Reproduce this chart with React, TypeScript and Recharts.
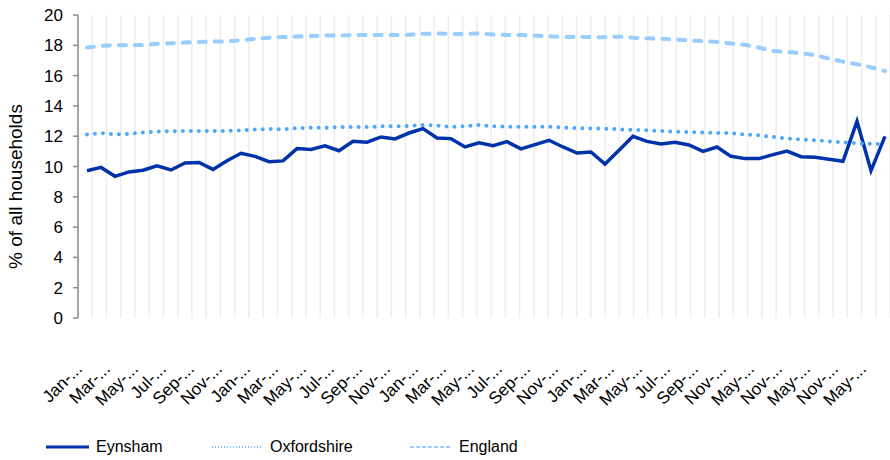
import { CartesianGrid, Legend, Line, LineChart, XAxis, YAxis } from "recharts";

const months = [
  "Jan-17", "Feb-17", "Mar-17", "Apr-17", "May-17", "Jun-17", "Jul-17", "Aug-17", "Sep-17", "Oct-17", "Nov-17", "Dec-17",
  "Jan-18", "Feb-18", "Mar-18", "Apr-18", "May-18", "Jun-18", "Jul-18", "Aug-18", "Sep-18", "Oct-18", "Nov-18", "Dec-18",
  "Jan-19", "Feb-19", "Mar-19", "Apr-19", "May-19", "Jun-19", "Jul-19", "Aug-19", "Sep-19", "Oct-19", "Nov-19", "Dec-19",
  "Jan-20", "Feb-20", "Mar-20", "Apr-20", "May-20", "Jun-20", "Jul-20", "Aug-20", "Sep-20", "Oct-20", "Nov-20", "Dec-20",
  "May-21", "Aug-21", "Nov-21", "Feb-22", "May-22", "Aug-22", "Nov-22", "Feb-23", "May-23", "Aug-23"
];

const eynsham = [
  9.72, 9.94, 9.35, 9.64, 9.75, 10.05, 9.77, 10.23, 10.27, 9.81,
  10.38, 10.87, 10.67, 10.32, 10.37, 11.18, 11.13, 11.37, 11.04, 11.66,
  11.6, 11.95, 11.82, 12.21, 12.5, 11.88, 11.84, 11.29, 11.56, 11.37,
  11.64, 11.16, 11.44, 11.73, 11.29, 10.89, 10.96, 10.16, 11.07, 11.99,
  11.66, 11.49, 11.6, 11.42, 11.0, 11.29, 10.67, 10.52, 10.52, 10.78,
  11.02, 10.65, 10.61, 10.48, 10.34, 12.98, 9.72, 11.99
];

const oxfordshire = [
  12.12, 12.2, 12.13, 12.15, 12.25, 12.3, 12.33, 12.34, 12.35, 12.34,
  12.34, 12.39, 12.45, 12.47, 12.45, 12.54, 12.56, 12.56, 12.6, 12.61,
  12.6, 12.65, 12.65, 12.67, 12.74, 12.7, 12.61, 12.67, 12.74, 12.66,
  12.63, 12.63, 12.63, 12.63, 12.56, 12.53, 12.51, 12.5, 12.46, 12.41,
  12.39, 12.34, 12.3, 12.27, 12.24, 12.21, 12.2, 12.12, 12.06, 11.95,
  11.84, 11.78, 11.73, 11.66, 11.6, 11.53, 11.49, 11.49
];

const england = [
  17.85, 17.97, 18.0, 18.0, 18.03, 18.1, 18.13, 18.18, 18.22, 18.24,
  18.27, 18.33, 18.42, 18.5, 18.55, 18.58, 18.62, 18.64, 18.65, 18.67,
  18.68, 18.68, 18.68, 18.7, 18.76, 18.78, 18.75, 18.74, 18.78, 18.72,
  18.68, 18.68, 18.64, 18.6, 18.55, 18.56, 18.55, 18.53, 18.57, 18.5,
  18.46, 18.44, 18.38, 18.32, 18.27, 18.22, 18.12, 18.03, 17.85, 17.62,
  17.55, 17.48, 17.35, 17.12, 16.92, 16.75, 16.55, 16.3
];

const yTicks = [0, 2, 4, 6, 8, 10, 12, 14, 16, 18, 20];

const data = months.map((month, i) => ({
  month,
  eynsham: eynsham[i],
  oxfordshire: oxfordshire[i],
  england: england[i]
}));

// band edges, used for the grid lines and the small tick marks under the axis
const bandEdges = months.map((_, i) => i).concat(months.length);

const FONT = '"Liberation Sans", Arial, sans-serif';
const AXIS_GREY = "#8c8c8c";

const series = [
  { key: "eynsham", name: "Eynsham", color: "#0033aa", width: 3.5, dash: undefined, cap: "butt", legendDash: undefined, legendWidth: 3 },
  { key: "oxfordshire", name: "Oxfordshire", color: "#4da6ff", width: 4, dash: "0 8", cap: "round", legendDash: "1 2", legendWidth: 1.5 },
  { key: "england", name: "England", color: "#99ccff", width: 4, dash: "7 9", cap: "round", legendDash: "4 2", legendWidth: 2 }
] as const;

const legendLeft = [46, 212, 410];
const legendSample = [43, 51, 42];

function MonthTick({ x, y, payload }: any) {
  const label = String(payload.value).slice(0, 3) + "-...";
  const ax = x - 4;
  const ay = y + 52;
  return (
    <text
      x={ax}
      y={ay}
      transform={`rotate(-45, ${ax}, ${ay})`}
      textAnchor="end"
      fontSize={17}
      fontFamily={FONT}
      fill="#000"
    >
      {label}
    </text>
  );
}

function YLabel({ viewBox }: any) {
  const cx = 22;
  const cy = viewBox.y + viewBox.height / 2 + 20;
  return (
    <text
      x={cx}
      y={cy}
      transform={`rotate(-90, ${cx}, ${cy})`}
      textAnchor="middle"
      fontSize={19}
      fontFamily={FONT}
      fill="#000"
    >
      % of all households
    </text>
  );
}

function LegendContent() {
  return (
    <div style={{ position: "relative", height: 43, width: 890, fontFamily: FONT }}>
      {series.map((s, i) => (
        <div
          key={s.key}
          style={{ position: "absolute", left: legendLeft[i], top: 20, height: 20, display: "flex", alignItems: "center" }}
        >
          <svg width={legendSample[i]} height={6}>
            <line x1={0} y1={3} x2={legendSample[i]} y2={3} stroke={s.color} strokeWidth={s.legendWidth} strokeDasharray={s.legendDash} />
          </svg>
          <span style={{ marginLeft: 7, fontSize: 16, color: "#000" }}>{s.name}</span>
        </div>
      ))}
    </div>
  );
}

export default function App() {
  return (
    <div style={{ position: "absolute", left: 0, top: 0, width: 890, height: 460, background: "#fff" }}>
      <LineChart width={890} height={460} data={data} margin={{ top: 15, right: 0, left: 0, bottom: 0 }}>
        <CartesianGrid xAxisId="grid" vertical horizontal={false} stroke="#ededed" strokeWidth={1.5} />
        <XAxis
          xAxisId="grid"
          type="number"
          domain={[0, months.length]}
          ticks={bandEdges}
          interval={0}
          allowDataOverflow
          height={0}
          tickSize={5}
          tickFormatter={() => ""}
          axisLine={{ stroke: AXIS_GREY, strokeWidth: 1.5 }}
          tickLine={{ stroke: AXIS_GREY, strokeWidth: 1.5 }}
        />
        <XAxis
          xAxisId="cat"
          dataKey="month"
          interval={1}
          height={99}
          padding={{ left: 9, right: 5 }}
          axisLine={false}
          tickLine={false}
          tickSize={0}
          tickMargin={0}
          tick={<MonthTick />}
        />
        <YAxis
          domain={[0, 20]}
          ticks={yTicks}
          interval={0}
          width={78}
          tickSize={5}
          tickMargin={10}
          axisLine={{ stroke: AXIS_GREY, strokeWidth: 1.5 }}
          tickLine={{ stroke: AXIS_GREY, strokeWidth: 1.5 }}
          tick={{ fontSize: 17, fill: "#000", fontFamily: FONT }}
          label={(props: any) => <YLabel {...props} />}
        />
        <Legend verticalAlign="bottom" content={<LegendContent />} wrapperStyle={{ left: 0, width: 890 }} />
        {series.map((s) => (
          <Line
            key={s.key}
            xAxisId="cat"
            type="linear"
            dataKey={s.key}
            name={s.name}
            stroke={s.color}
            strokeWidth={s.width}
            strokeDasharray={s.dash}
            strokeLinecap={s.cap}
            dot={false}
            activeDot={false}
            isAnimationActive={false}
          />
        ))}
      </LineChart>
    </div>
  );
}
